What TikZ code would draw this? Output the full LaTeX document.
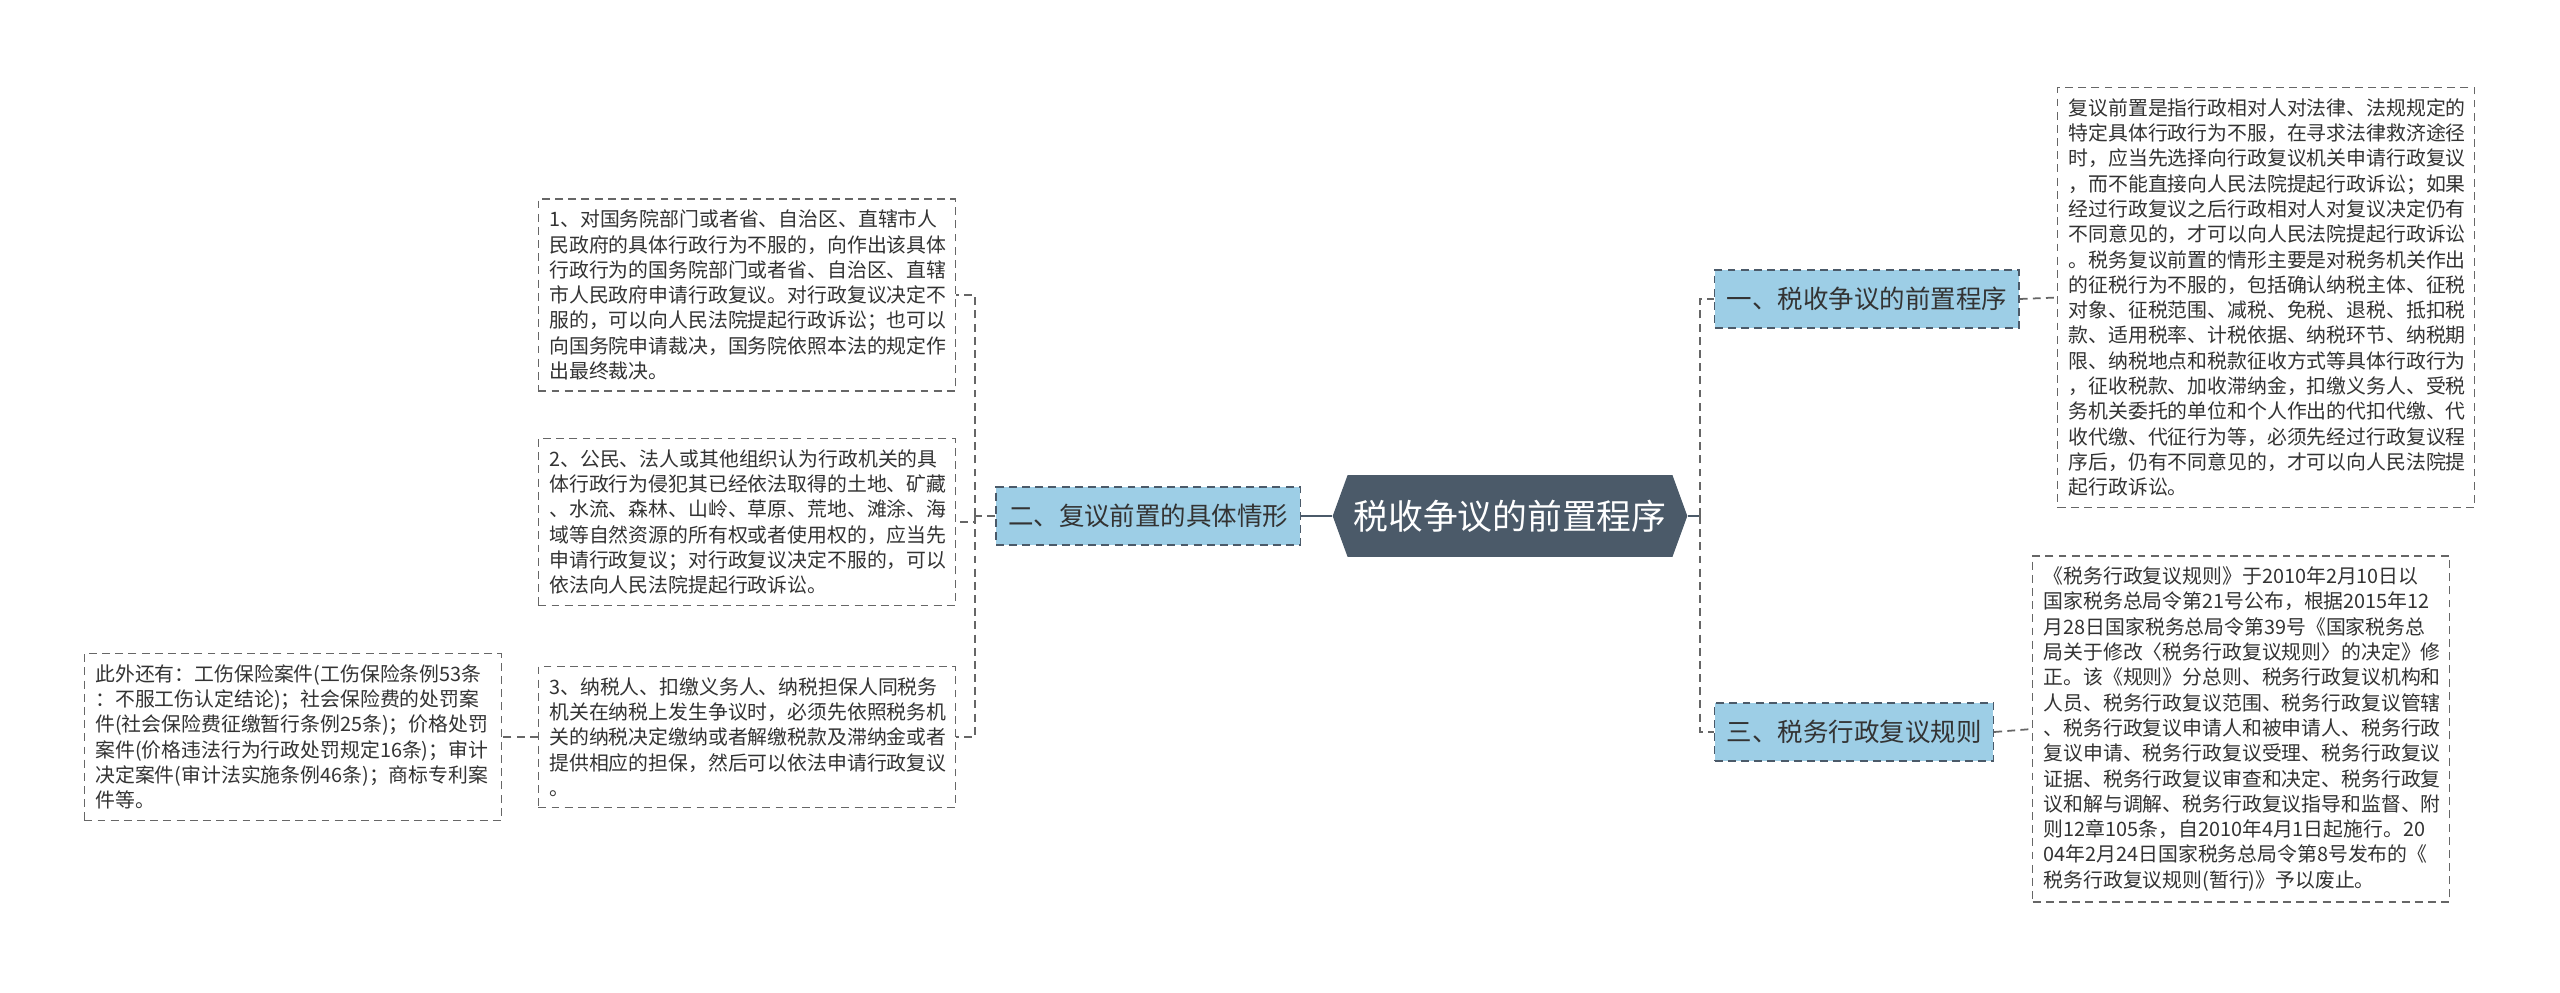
\documentclass[tikz,border=0pt]{standalone}
\usepackage{fontspec}
\setmainfont{Noto Sans CJK SC}
\usepackage{xcolor}
\usepackage{tikz}
\usetikzlibrary{shapes.symbols,positioning,calc}
\definecolor{slate}{HTML}{4B5A69}
\definecolor{sky}{HTML}{9DCEE6}
\definecolor{ink}{HTML}{333333}
\definecolor{rim}{HTML}{666666}

\begin{document}
\begin{tikzpicture}[x=0.02cm, y=-0.02cm,
    root/.style={signal, signal to=west and east, signal pointer angle=140, fill=slate, draw=none, text=white, minimum width=6.86cm, minimum height=1.64cm, font=\fontsize{19.8pt}{24pt}\selectfont},
    branch/.style={rectangle, draw=slate, dash pattern=on 4.5pt off 3pt, fill=sky, line width=0.8pt, minimum height=1.16cm, inner xsep=0.24cm, text=ink, font=\fontsize{14.5pt}{17pt}\selectfont},
    leaf/.style={rectangle, draw=rim, dash pattern=on 4.5pt off 3pt, fill=white, line width=0.8pt, text width=7.9cm, inner sep=0.22cm, align=left, text=ink, font=\fontsize{11.3pt}{14.4pt}\selectfont},
    link/.style={draw=rim, line width=1pt, dash pattern=on 4.5pt off 3pt},
    trunk/.style={draw=slate, line width=1.2pt}
]
    \useasboundingbox (0,0) rectangle (2560,993);

    \node[root] (root) at (1510,516) {税收争议的前置程序};

    \node[branch, anchor=east] (sec2) at (1301,516) {二、复议前置的具体情形};
    \node[branch, anchor=west] (sec1) at (1714,299) {一、税收争议的前置程序};
    \node[branch, anchor=west] (sec3) at (1714,732) {三、税务行政复议规则};

    % left side
    \node[leaf, anchor=east] (case1) at (956,295) {1、对国务院部门或者省、自治区、直辖市人\\
民政府的具体行政行为不服的，向作出该具体\\
行政行为的国务院部门或者省、自治区、直辖\\
市人民政府申请行政复议。对行政复议决定不\\
服的，可以向人民法院提起行政诉讼；也可以\\
向国务院申请裁决，国务院依照本法的规定作\\
出最终裁决。};
    \node[leaf, anchor=east] (case2) at (956,522) {2、公民、法人或其他组织认为行政机关的具\\
体行政行为侵犯其已经依法取得的土地、矿藏\\
、水流、森林、山岭、草原、荒地、滩涂、海\\
域等自然资源的所有权或者使用权的，应当先\\
申请行政复议；对行政复议决定不服的，可以\\
依法向人民法院提起行政诉讼。};
    \node[leaf, anchor=east] (case3) at (956,737) {3、纳税人、扣缴义务人、纳税担保人同税务\\
机关在纳税上发生争议时，必须先依照税务机\\
关的纳税决定缴纳或者解缴税款及滞纳金或者\\
提供相应的担保，然后可以依法申请行政复议\\
。};
    \node[leaf, anchor=east] (others) at (502,737) {此外还有：工伤保险案件(工伤保险条例53条\\
：不服工伤认定结论)；社会保险费的处罚案\\
件(社会保险费征缴暂行条例25条)；价格处罚\\
案件(价格违法行为行政处罚规定16条)；审计\\
决定案件(审计法实施条例46条)；商标专利案\\
件等。};

    % right side
    \node[leaf, anchor=west] (def) at (2057,297.5) {复议前置是指行政相对人对法律、法规规定的\\
特定具体行政行为不服，在寻求法律救济途径\\
时，应当先选择向行政复议机关申请行政复议\\
，而不能直接向人民法院提起行政诉讼；如果\\
经过行政复议之后行政相对人对复议决定仍有\\
不同意见的，才可以向人民法院提起行政诉讼\\
。税务复议前置的情形主要是对税务机关作出\\
的征税行为不服的，包括确认纳税主体、征税\\
对象、征税范围、减税、免税、退税、抵扣税\\
款、适用税率、计税依据、纳税环节、纳税期\\
限、纳税地点和税款征收方式等具体行政行为\\
，征收税款、加收滞纳金，扣缴义务人、受税\\
务机关委托的单位和个人作出的代扣代缴、代\\
收代缴、代征行为等，必须先经过行政复议程\\
序后，仍有不同意见的，才可以向人民法院提\\
起行政诉讼。};
    \node[leaf, anchor=west] (rules) at (2032,729) {《税务行政复议规则》于2010年2月10日以\\
国家税务总局令第21号公布，根据2015年12\\
月28日国家税务总局令第39号《国家税务总\\
局关于修改〈税务行政复议规则〉的决定》修\\
正。该《规则》分总则、税务行政复议机构和\\
人员、税务行政复议范围、税务行政复议管辖\\
、税务行政复议申请人和被申请人、税务行政\\
复议申请、税务行政复议受理、税务行政复议\\
证据、税务行政复议审查和决定、税务行政复\\
议和解与调解、税务行政复议指导和监督、附\\
则12章105条，自2010年4月1日起施行。20\\
04年2月24日国家税务总局令第8号发布的《\\
税务行政复议规则(暂行)》予以废止。};

    \coordinate (jl) at (975,516);
    \coordinate (jr) at (1700,516);

    \draw[trunk] (root.west) -- (sec2.east);
    \draw[trunk] (root.east) -- (jr);
    \draw[link] (jr) |- (sec1.west);
    \draw[link] (jr) |- (sec3.west);

    \draw[link] (sec2.west) -- (jl);
    \draw[link] (jl) |- (case1.east);
    \draw[link] (jl) |- (case2.east);
    \draw[link] (jl) |- (case3.east);
    \draw[link] (case3.west) -- (others.east);

    \draw[link] (sec1.east) -- (def.west);
    \draw[link] (sec3.east) -- (rules.west);
\end{tikzpicture}
\end{document}
